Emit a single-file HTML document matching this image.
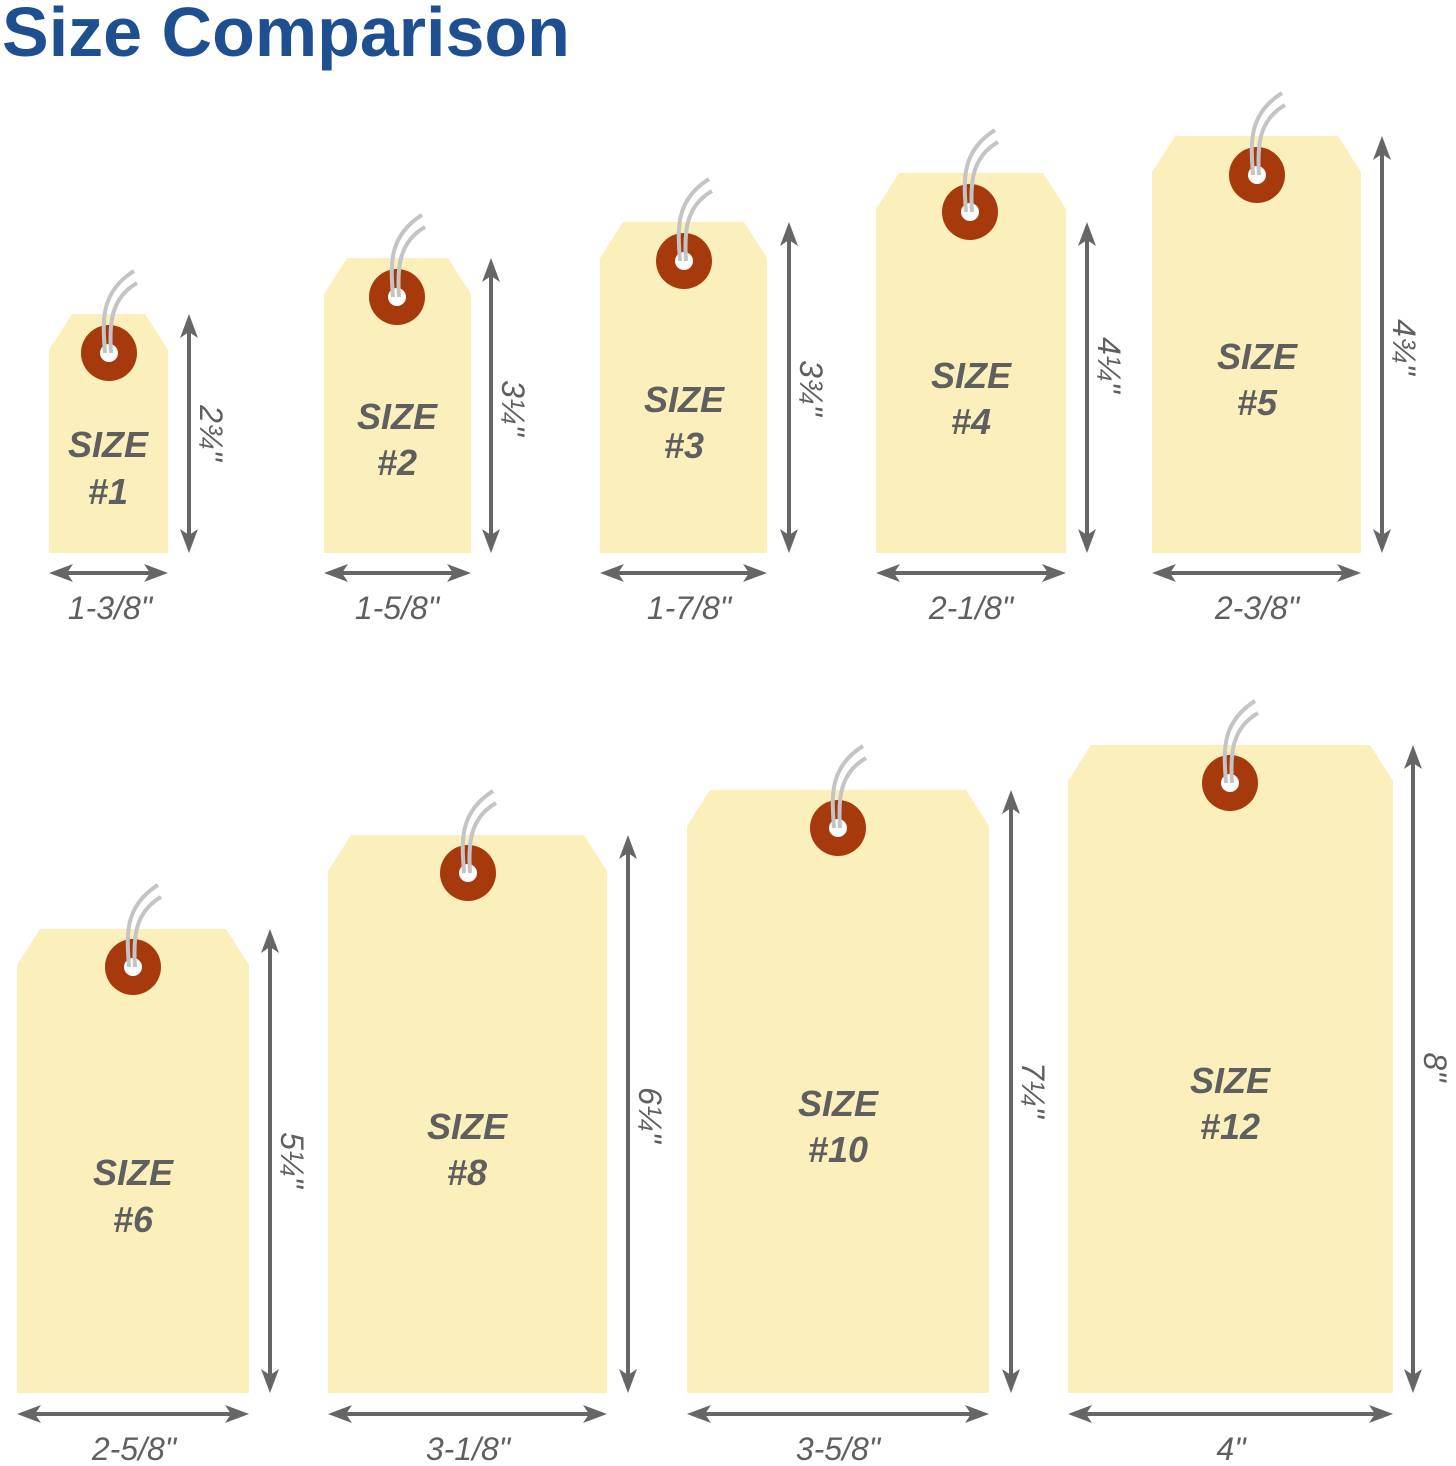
<!DOCTYPE html>
<html><head><meta charset="utf-8"><style>
html,body{margin:0;padding:0;background:#fff;}
svg{display:block}
.t{font-family:"Liberation Sans",sans-serif;fill:#5f5f5f;font-style:italic}
.s{font-size:36px;font-weight:bold;text-anchor:middle}
.w{font-size:32px;text-anchor:middle}
.tag{fill:#fbefbb}
.ey{fill:#a63a0c}
.ho{fill:#fff}
.ar{stroke:#666;stroke-width:4}
.ah{fill:#666}
.st{stroke:#c4c4c4;stroke-width:4;fill:none}
</style></head><body>
<svg width="1456" height="1466" viewBox="0 0 1456 1466" xmlns="http://www.w3.org/2000/svg">
<text x="2" y="56" font-family="Liberation Sans, sans-serif" font-weight="bold" font-size="70" fill="#1d4f91">Size Comparison</text>

<!-- Tag 1 -->
<polygon class="tag" points="49,350 72,314 145,314 168,350 168,553 49,553"/>
<circle class="ey" cx="109" cy="353" r="28"/><circle class="ho" cx="109" cy="353" r="9"/>
<path class="st" d="M105,353 C103,323 99,293 134,271 M111,353 C109,323 111,298 137,283"/>
<text class="t s" x="108" y="457">SIZE</text><text class="t s" x="108" y="504">#1</text>
<line class="ar" x1="189" y1="328" x2="189" y2="539"/><polygon class="ah" points="189,314 180,338 189,332 198,338"/><polygon class="ah" points="189,553 180,529 189,535 198,529"/>
<line class="ar" x1="63" y1="573" x2="154" y2="573"/><polygon class="ah" points="49,573 73,564 67,573 73,582"/><polygon class="ah" points="168,573 144,564 150,573 144,582"/>
<text class="t w" x="110" y="619">1-3/8"</text>
<text class="t w" transform="translate(200,433) rotate(90)">2¾"</text>

<!-- Tag 2 -->
<polygon class="tag" points="324,294 347,258 448,258 471,294 471,553 324,553"/>
<circle class="ey" cx="397" cy="297" r="28"/><circle class="ho" cx="397" cy="297" r="9"/>
<path class="st" d="M393,297 C391,267 387,237 422,215 M399,297 C397,267 399,242 425,227"/>
<text class="t s" x="397" y="429">SIZE</text><text class="t s" x="397" y="475">#2</text>
<line class="ar" x1="491" y1="272" x2="491" y2="539"/><polygon class="ah" points="491,258 482,282 491,276 500,282"/><polygon class="ah" points="491,553 482,529 491,535 500,529"/>
<line class="ar" x1="338" y1="573" x2="457" y2="573"/><polygon class="ah" points="324,573 348,564 342,573 348,582"/><polygon class="ah" points="471,573 447,564 453,573 447,582"/>
<text class="t w" x="397" y="619">1-5/8"</text>
<text class="t w" transform="translate(502,408) rotate(90)">3¼"</text>

<!-- Tag 3 -->
<polygon class="tag" points="600,258 623,222 744,222 767,258 767,553 600,553"/>
<circle class="ey" cx="684" cy="261" r="28"/><circle class="ho" cx="684" cy="261" r="9"/>
<path class="st" d="M680,261 C678,231 674,201 709,179 M686,261 C684,231 686,206 712,191"/>
<text class="t s" x="684" y="412">SIZE</text><text class="t s" x="684" y="458">#3</text>
<line class="ar" x1="789" y1="236" x2="789" y2="539"/><polygon class="ah" points="789,222 780,246 789,240 798,246"/><polygon class="ah" points="789,553 780,529 789,535 798,529"/>
<line class="ar" x1="614" y1="573" x2="753" y2="573"/><polygon class="ah" points="600,573 624,564 618,573 624,582"/><polygon class="ah" points="767,573 743,564 749,573 743,582"/>
<text class="t w" x="689" y="619">1-7/8"</text>
<text class="t w" transform="translate(800,388) rotate(90)">3¾"</text>

<!-- Tag 4 -->
<polygon class="tag" points="876,209 899,173 1043,173 1066,209 1066,553 876,553"/>
<circle class="ey" cx="970" cy="212" r="28"/><circle class="ho" cx="970" cy="212" r="9"/>
<path class="st" d="M966,212 C964,182 960,152 995,130 M972,212 C970,182 972,157 998,142"/>
<text class="t s" x="971" y="388">SIZE</text><text class="t s" x="971" y="434">#4</text>
<line class="ar" x1="1087" y1="236" x2="1087" y2="539"/><polygon class="ah" points="1087,222 1078,246 1087,240 1096,246"/><polygon class="ah" points="1087,553 1078,529 1087,535 1096,529"/>
<line class="ar" x1="890" y1="573" x2="1052" y2="573"/><polygon class="ah" points="876,573 900,564 894,573 900,582"/><polygon class="ah" points="1066,573 1042,564 1048,573 1042,582"/>
<text class="t w" x="971" y="619">2-1/8"</text>
<text class="t w" transform="translate(1098,365) rotate(90)">4¼"</text>

<!-- Tag 5 -->
<polygon class="tag" points="1152,172 1175,136 1338,136 1361,172 1361,553 1152,553"/>
<circle class="ey" cx="1257" cy="175" r="28"/><circle class="ho" cx="1257" cy="175" r="9"/>
<path class="st" d="M1253,175 C1251,145 1247,115 1282,93 M1259,175 C1257,145 1259,120 1285,105"/>
<text class="t s" x="1257" y="369">SIZE</text><text class="t s" x="1257" y="415">#5</text>
<line class="ar" x1="1382" y1="150" x2="1382" y2="539"/><polygon class="ah" points="1382,136 1373,160 1382,154 1391,160"/><polygon class="ah" points="1382,553 1373,529 1382,535 1391,529"/>
<line class="ar" x1="1166" y1="573" x2="1347" y2="573"/><polygon class="ah" points="1152,573 1176,564 1170,573 1176,582"/><polygon class="ah" points="1361,573 1337,564 1343,573 1337,582"/>
<text class="t w" x="1257" y="619">2-3/8"</text>
<text class="t w" transform="translate(1393,347) rotate(90)">4¾"</text>

<!-- Tag 6 -->
<polygon class="tag" points="17,965 40,929 226,929 249,965 249,1393 17,1393"/>
<circle class="ey" cx="133" cy="967" r="28"/><circle class="ho" cx="133" cy="967" r="9"/>
<path class="st" d="M129,967 C127,937 123,907 158,885 M135,967 C133,937 135,912 161,897"/>
<text class="t s" x="133" y="1185">SIZE</text><text class="t s" x="133" y="1232">#6</text>
<line class="ar" x1="270" y1="943" x2="270" y2="1379"/><polygon class="ah" points="270,929 261,953 270,947 279,953"/><polygon class="ah" points="270,1393 261,1369 270,1375 279,1369"/>
<line class="ar" x1="31" y1="1414" x2="235" y2="1414"/><polygon class="ah" points="17,1414 41,1405 35,1414 41,1423"/><polygon class="ah" points="249,1414 225,1405 231,1414 225,1423"/>
<text class="t w" x="134" y="1460">2-5/8"</text>
<text class="t w" transform="translate(281,1160) rotate(90)">5¼"</text>

<!-- Tag 8 -->
<polygon class="tag" points="328,871 351,835 584,835 607,871 607,1393 328,1393"/>
<circle class="ey" cx="468" cy="873" r="28"/><circle class="ho" cx="468" cy="873" r="9"/>
<path class="st" d="M464,873 C462,843 458,813 493,791 M470,873 C468,843 470,818 496,803"/>
<text class="t s" x="467" y="1139">SIZE</text><text class="t s" x="467" y="1185">#8</text>
<line class="ar" x1="628" y1="849" x2="628" y2="1379"/><polygon class="ah" points="628,835 619,859 628,853 637,859"/><polygon class="ah" points="628,1393 619,1369 628,1375 637,1369"/>
<line class="ar" x1="342" y1="1414" x2="593" y2="1414"/><polygon class="ah" points="328,1414 352,1405 346,1414 352,1423"/><polygon class="ah" points="607,1414 583,1405 589,1414 583,1423"/>
<text class="t w" x="468" y="1460">3-1/8"</text>
<text class="t w" transform="translate(639,1115) rotate(90)">6¼"</text>

<!-- Tag 10 -->
<polygon class="tag" points="687,826 710,790 966,790 989,826 989,1393 687,1393"/>
<circle class="ey" cx="838" cy="828" r="28"/><circle class="ho" cx="838" cy="828" r="9"/>
<path class="st" d="M834,828 C832,798 828,768 863,746 M840,828 C838,798 840,773 866,758"/>
<text class="t s" x="838" y="1116">SIZE</text><text class="t s" x="838" y="1162">#10</text>
<line class="ar" x1="1011" y1="804" x2="1011" y2="1379"/><polygon class="ah" points="1011,790 1002,814 1011,808 1020,814"/><polygon class="ah" points="1011,1393 1002,1369 1011,1375 1020,1369"/>
<line class="ar" x1="701" y1="1414" x2="975" y2="1414"/><polygon class="ah" points="687,1414 711,1405 705,1414 711,1423"/><polygon class="ah" points="989,1414 965,1405 971,1414 965,1423"/>
<text class="t w" x="838" y="1460">3-5/8"</text>
<text class="t w" transform="translate(1022,1090) rotate(90)">7¼"</text>

<!-- Tag 12 -->
<polygon class="tag" points="1068,781 1091,745 1370,745 1393,781 1393,1393 1068,1393"/>
<circle class="ey" cx="1230" cy="783" r="28"/><circle class="ho" cx="1230" cy="783" r="9"/>
<path class="st" d="M1226,783 C1224,753 1220,723 1255,701 M1232,783 C1230,753 1232,728 1258,713"/>
<text class="t s" x="1230" y="1093">SIZE</text><text class="t s" x="1230" y="1139">#12</text>
<line class="ar" x1="1413" y1="759" x2="1413" y2="1379"/><polygon class="ah" points="1413,745 1404,769 1413,763 1422,769"/><polygon class="ah" points="1413,1393 1404,1369 1413,1375 1422,1369"/>
<line class="ar" x1="1082" y1="1414" x2="1379" y2="1414"/><polygon class="ah" points="1068,1414 1092,1405 1086,1414 1092,1423"/><polygon class="ah" points="1393,1414 1369,1405 1375,1414 1369,1423"/>
<text class="t w" x="1231" y="1460">4"</text>
<text class="t w" transform="translate(1424,1067) rotate(90)">8"</text>
</svg>
</body></html>
